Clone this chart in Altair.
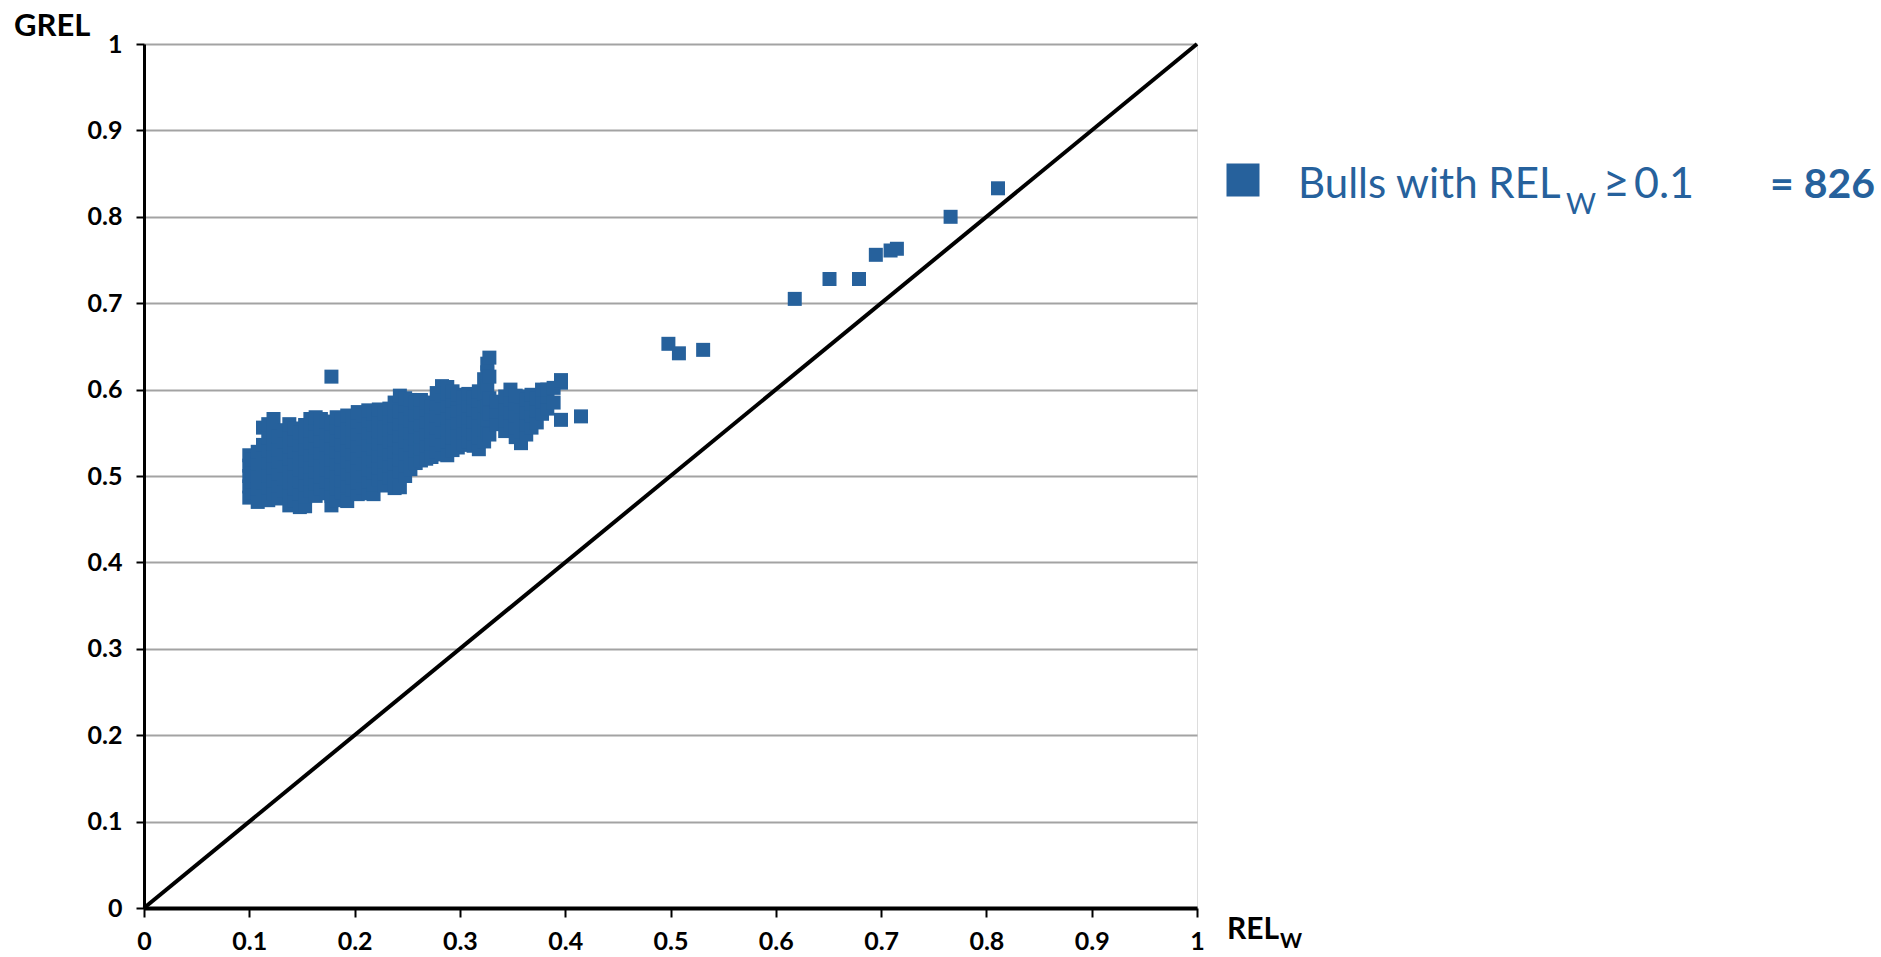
import altair as alt
import pandas as pd

# Bulls: reliability from own records (REL_W) vs genomic reliability (GREL).
# Each cluster is a list of (rel_w, [grel, ...]) columns.
left_cluster = [
    (0.100, [0.475, 0.488, 0.500, 0.512, 0.524]),
    (0.103, [0.481, 0.494, 0.506, 0.519]),
    (0.108, [0.470, 0.485, 0.500, 0.515, 0.528]),
    (0.113, [0.478, 0.492, 0.507, 0.522, 0.536, 0.556]),
    (0.118, [0.472, 0.487, 0.501, 0.516, 0.530, 0.545, 0.560]),
    (0.123, [0.480, 0.495, 0.510, 0.524, 0.538, 0.552, 0.566]),
    (0.128, [0.474, 0.489, 0.503, 0.517, 0.531, 0.546]),
    (0.133, [0.483, 0.497, 0.512, 0.526, 0.540, 0.553]),
    (0.138, [0.466, 0.478, 0.492, 0.506, 0.520, 0.534, 0.548, 0.560]),
    (0.143, [0.472, 0.486, 0.500, 0.514, 0.528, 0.542, 0.555]),
    (0.148, [0.464, 0.480, 0.494, 0.508, 0.522, 0.536, 0.550]),
    (0.153, [0.465, 0.476, 0.490, 0.504, 0.518, 0.532, 0.546, 0.559]),
    (0.158, [0.483, 0.497, 0.511, 0.525, 0.539, 0.553, 0.566]),
    (0.163, [0.477, 0.491, 0.505, 0.519, 0.533, 0.547, 0.561, 0.568]),
    (0.168, [0.485, 0.499, 0.513, 0.527, 0.541, 0.555, 0.566]),
    (0.173, [0.480, 0.494, 0.508, 0.522, 0.536, 0.550, 0.563]),
    (0.178, [0.466, 0.477, 0.491, 0.505, 0.519, 0.533, 0.547, 0.561, 0.615]),
    (0.183, [0.472, 0.486, 0.500, 0.514, 0.528, 0.542, 0.556, 0.568]),
    (0.188, [0.481, 0.495, 0.509, 0.523, 0.537, 0.551, 0.565]),
    (0.193, [0.471, 0.489, 0.503, 0.517, 0.531, 0.545, 0.559, 0.570]),
    (0.198, [0.484, 0.498, 0.512, 0.526, 0.540, 0.554, 0.566]),
]

middle_cluster = [
    (0.203, [0.479, 0.493, 0.507, 0.521, 0.535, 0.549, 0.563, 0.574]),
    (0.208, [0.487, 0.501, 0.515, 0.529, 0.543, 0.557, 0.570]),
    (0.213, [0.480, 0.494, 0.508, 0.522, 0.536, 0.550, 0.564, 0.576]),
    (0.218, [0.479, 0.490, 0.504, 0.518, 0.532, 0.546, 0.560, 0.572]),
    (0.223, [0.496, 0.510, 0.524, 0.538, 0.552, 0.566, 0.577]),
    (0.228, [0.489, 0.503, 0.517, 0.531, 0.545, 0.559, 0.572]),
    (0.233, [0.498, 0.512, 0.526, 0.540, 0.554, 0.568, 0.578]),
    (0.238, [0.486, 0.500, 0.514, 0.528, 0.542, 0.556, 0.570, 0.585]),
    (0.243, [0.487, 0.505, 0.519, 0.533, 0.547, 0.561, 0.575, 0.593]),
    (0.248, [0.500, 0.512, 0.526, 0.540, 0.554, 0.568, 0.582, 0.590]),
    (0.253, [0.508, 0.522, 0.536, 0.550, 0.564, 0.578, 0.588]),
    (0.258, [0.515, 0.529, 0.543, 0.557, 0.571, 0.585]),
    (0.263, [0.518, 0.532, 0.546, 0.560, 0.574, 0.588]),
    (0.268, [0.520, 0.535, 0.549, 0.563, 0.577, 0.585]),
    (0.273, [0.522, 0.538, 0.552, 0.566, 0.580]),
    (0.278, [0.528, 0.542, 0.556, 0.570, 0.584, 0.596]),
    (0.283, [0.525, 0.537, 0.551, 0.565, 0.579, 0.593, 0.604]),
    (0.288, [0.524, 0.540, 0.554, 0.568, 0.582, 0.596, 0.603]),
    (0.293, [0.530, 0.545, 0.559, 0.573, 0.587, 0.598]),
    (0.298, [0.533, 0.548, 0.562, 0.576, 0.590, 0.594]),
    (0.303, [0.536, 0.550, 0.564, 0.578, 0.591]),
    (0.308, [0.540, 0.554, 0.568, 0.582, 0.595]),
    (0.313, [0.535, 0.549, 0.563, 0.577, 0.591]),
    (0.318, [0.531, 0.545, 0.559, 0.573, 0.587, 0.598]),
    (0.323, [0.540, 0.554, 0.568, 0.582, 0.596, 0.612]),
    (0.326, [0.550, 0.565, 0.580, 0.603, 0.620, 0.630]),
    (0.328, [0.548, 0.572, 0.590, 0.615, 0.637]),
]

right_cluster = [
    (0.335, [0.560, 0.575, 0.586]),
    (0.343, [0.552, 0.564, 0.578, 0.592]),
    (0.348, [0.560, 0.574, 0.588, 0.600]),
    (0.353, [0.545, 0.556, 0.570, 0.584, 0.593]),
    (0.358, [0.538, 0.552, 0.566, 0.580, 0.592]),
    (0.363, [0.548, 0.560, 0.574, 0.588]),
    (0.368, [0.556, 0.570, 0.584, 0.594]),
    (0.373, [0.562, 0.576, 0.590]),
    (0.378, [0.572, 0.586, 0.600]),
    (0.383, [0.578, 0.592, 0.600]),
    (0.389, [0.585, 0.602]),
    (0.396, [0.565, 0.608, 0.611]),
    (0.415, [0.569]),
]

# Bulls with high own reliability
high_rel_w = [0.498, 0.508, 0.531, 0.618, 0.651, 0.679, 0.695, 0.709, 0.715, 0.766, 0.811]
high_grel = [0.653, 0.642, 0.646, 0.705, 0.728, 0.728, 0.756, 0.761, 0.763, 0.800, 0.833]

tick_values = [0, 0.1, 0.2, 0.3, 0.4, 0.5, 0.6, 0.7, 0.8, 0.9, 1]
diag_x = [0, 1]
diag_y = [0, 1]

n_bulls = 826
threshold = 0.1

BLUE = "#26619c"
FONT = "Lato"

rows = []
for cluster in (left_cluster, middle_cluster, right_cluster):
    for rx, ys in cluster:
        for gy in ys:
            rows.append({"rel_w": rx, "grel": gy})
for rx, gy in zip(high_rel_w, high_grel):
    rows.append({"rel_w": rx, "grel": gy})
points = pd.DataFrame(rows)

W, H = 1053, 864

x_scale = alt.Scale(domain=[0, 1], nice=False, zero=True)
y_scale = alt.Scale(domain=[0, 1], nice=False, zero=True)

x_axis = alt.Axis(
    values=tick_values, format="~g", grid=False, title=None,
    domainColor="black", domainWidth=4, tickColor="black", tickWidth=2,
    tickSize=9, labelFont=FONT, labelFontSize=25, labelFontWeight="bold",
    labelColor="black", labelPadding=12, labelFlush=False,
)
y_axis = alt.Axis(
    values=tick_values, format="~g", grid=True, gridColor="#a3a3a3",
    gridWidth=2, title=None, domainColor="black", domainWidth=3,
    tickColor="black", tickWidth=2, tickSize=8, labelFont=FONT,
    labelFontSize=25, labelFontWeight="bold", labelColor="black",
    labelPadding=14, labelFlush=False,
)

scatter = alt.Chart(points).mark_square(
    size=196, color=BLUE, opacity=1, filled=True, strokeWidth=0
).encode(
    x=alt.X("rel_w:Q", scale=x_scale, axis=x_axis),
    y=alt.Y("grel:Q", scale=y_scale, axis=y_axis),
)

diag = alt.Chart(pd.DataFrame({"rel_w": diag_x, "grel": diag_y})).mark_line(
    color="black", strokeWidth=4
).encode(
    x=alt.X("rel_w:Q", scale=x_scale),
    y=alt.Y("grel:Q", scale=y_scale),
)

def label(text, x, y, size, weight="normal", color="black", baseline="alphabetic"):
    return alt.Chart(pd.DataFrame({"t": [text]})).mark_text(
        font=FONT, fontSize=size, fontWeight=weight, color=color,
        align="left", baseline=baseline,
    ).encode(text="t:N", x=alt.value(x), y=alt.value(y))

y_title = label("GREL", -130, -8, 31, "bold")
x_title = label("REL", 1083, 895, 30, "bold")
x_title_sub = label("W", 1136, 904, 21, "bold")

legend_symbol = alt.Chart(pd.DataFrame({"k": [0]})).mark_square(
    size=1089, color=BLUE, opacity=1, filled=True, strokeWidth=0
).encode(x=alt.value(1099), y=alt.value(136))
legend_text = label("Bulls with REL", 1154, 154, 42, color=BLUE)
legend_sub = label("W", 1422, 170, 29, color=BLUE)
legend_ge = label("\u2265", 1459, 154, 46, color=BLUE)
legend_cond = label(f"{threshold}", 1490, 154, 43, color=BLUE)
legend_count = label(f"= {n_bulls}", 1626, 154, 41, "bold", color=BLUE)

chart = alt.layer(
    diag, scatter, y_title, x_title, x_title_sub,
    legend_symbol, legend_text, legend_sub, legend_ge, legend_cond, legend_count,
).properties(
    width=W, height=H,
    autosize=alt.AutoSizeParams(type="none"),
    padding={"left": 144, "top": 44, "right": 684, "bottom": 49},
).configure_view(stroke=None).configure(background="white")

chart.save("out.html", embed_options={"renderer": "svg", "actions": False})
